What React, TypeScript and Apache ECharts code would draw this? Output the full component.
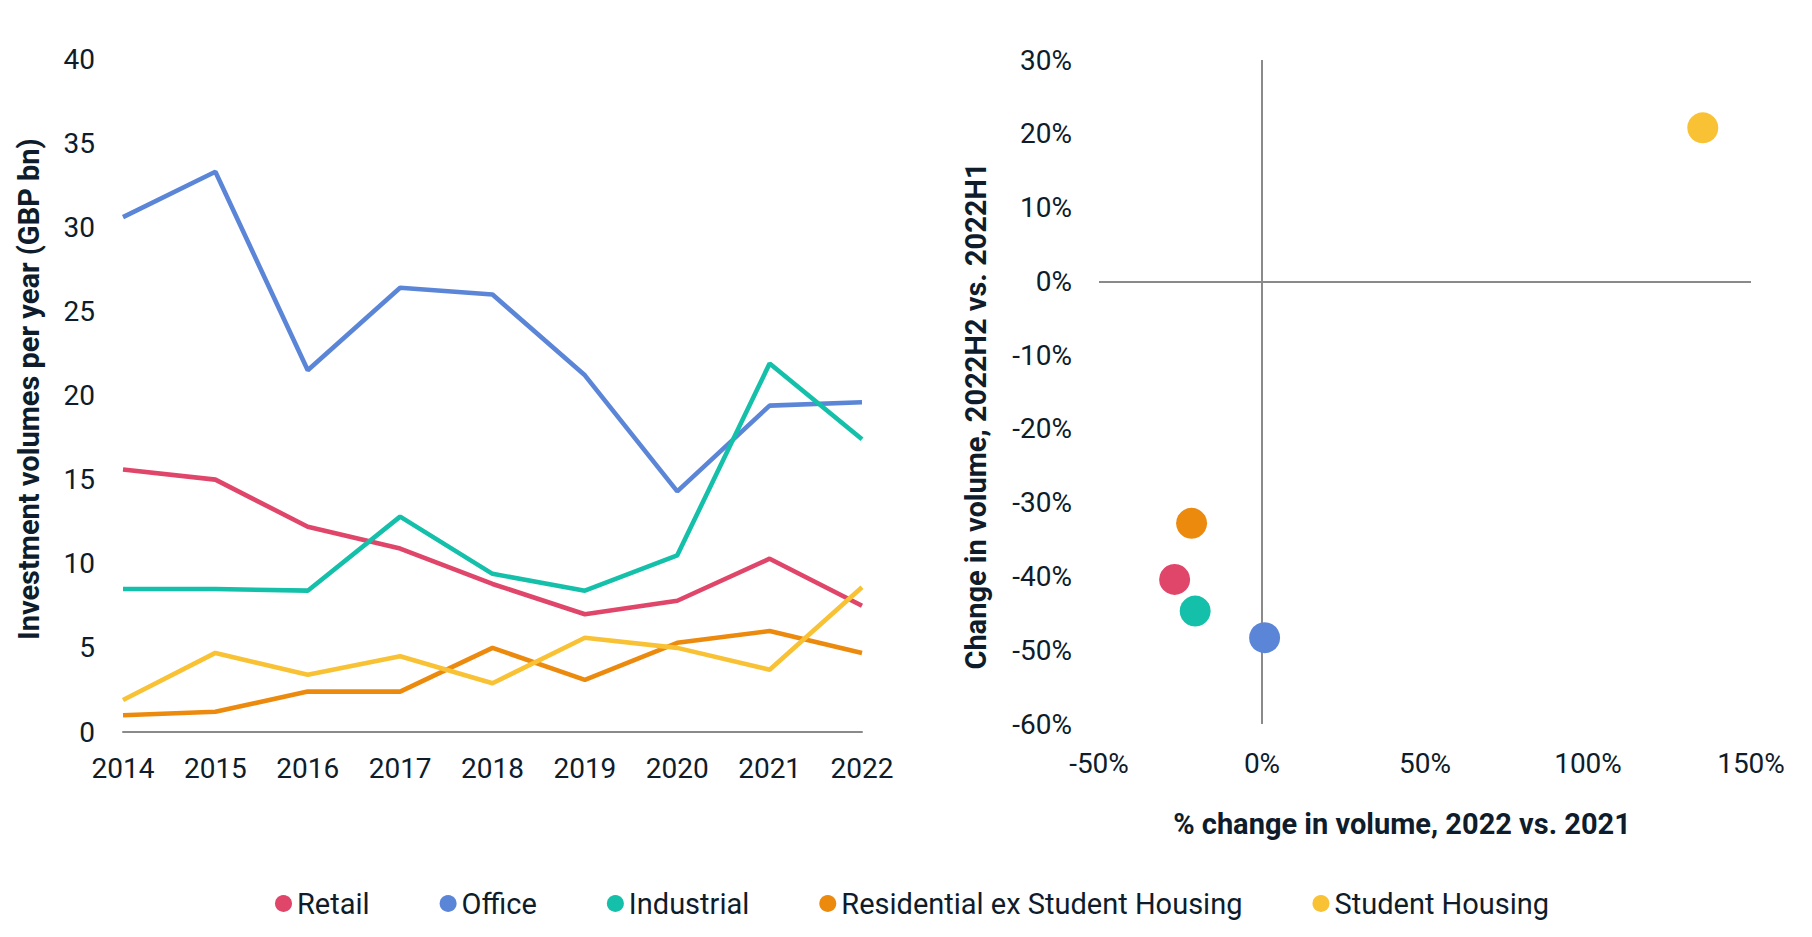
import React, { useEffect, useRef } from "react";
import * as echarts from "echarts";

const years = ["2014", "2015", "2016", "2017", "2018", "2019", "2020", "2021", "2022"];
const seriesNames = ["Retail", "Office", "Industrial", "Residential ex Student Housing", "Student Housing"];
const colors = ["#DF466A", "#5B86D7", "#14C0AA", "#EC8A0E", "#F8C234"];

const retail = [15.6, 15.0, 12.2, 10.9, 8.8, 7.0, 7.8, 10.3, 7.5];
const office = [30.6, 33.3, 21.5, 26.4, 26.0, 21.2, 14.3, 19.4, 19.6];
const industrial = [8.5, 8.5, 8.4, 12.8, 9.4, 8.4, 10.5, 21.9, 17.4];
const residential = [1.0, 1.2, 2.4, 2.4, 5.0, 3.1, 5.3, 6.0, 4.7];
const studentHousing = [1.9, 4.7, 3.4, 4.5, 2.9, 5.6, 5.0, 3.7, 8.6];

// scatter: [% change 2022 vs 2021, change 2022H2 vs 2022H1]
const scatterRetail = [-26.8, -40.4];
const scatterOffice = [0.8, -48.3];
const scatterIndustrial = [-20.5, -44.7];
const scatterResidential = [-21.6, -32.8];
const scatterStudent = [135.2, 20.8];

const leftYTicks = { min: 0, max: 40, interval: 5 };
const rightXTicks = { min: -50, max: 150, interval: 50 };
const rightYTicks = { min: -60, max: 30, interval: 10 };

const TEXT = "#0E1C2B";
const AXIS = "#8A8A8A";
const FONT = "Roboto";

export default function App() {
  const ref = useRef<HTMLDivElement>(null);
  useEffect(() => {
    document.body.style.margin = "0";
    const chart = echarts.init(ref.current!, null, { renderer: "svg" });
    const lineData = [retail, office, industrial, residential, studentHousing];
    const scatterData = [scatterRetail, scatterOffice, scatterIndustrial, scatterResidential, scatterStudent];
    const lineSeries = seriesNames.map((n, i) => ({
      name: n,
      type: "line",
      xAxisIndex: 0,
      yAxisIndex: 0,
      data: lineData[i],
      symbol: "none",
      lineStyle: { width: 4.6, color: colors[i] },
      itemStyle: { color: colors[i] },
    }));
    const scatterSeries = seriesNames.map((n, i) => ({
      name: n,
      type: "scatter",
      xAxisIndex: 1,
      yAxisIndex: 1,
      data: [scatterData[i]],
      symbolSize: 31,
      itemStyle: { color: colors[i], opacity: 1 },
      z: 5,
    }));
    const refLines = {
      type: "scatter",
      xAxisIndex: 1,
      yAxisIndex: 1,
      data: [],
      silent: true,
      z: 1,
      markLine: {
        silent: true,
        symbol: "none",
        label: { show: false },
        lineStyle: { color: AXIS, width: 2, type: "solid" },
        data: [{ xAxis: 0 }, { yAxis: 0 }],
      },
    };
    chart.setOption({
      animation: false,
      textStyle: { fontFamily: FONT, color: TEXT },
      legend: {
        data: seriesNames,
        icon: "circle",
        itemWidth: 17,
        itemHeight: 17,
        itemGap: 70,
        left: 270,
        top: 884,
        textStyle: { fontFamily: FONT, fontSize: 29, color: TEXT, padding: [0, 0, 0, 0] },
      },
      grid: [
        { left: 123, top: 59, width: 739, height: 673 },
        { left: 1099, top: 60, width: 652, height: 664 },
      ],
      xAxis: [
        {
          type: "category",
          gridIndex: 0,
          data: years,
          boundaryGap: false,
          axisLine: { lineStyle: { color: AXIS, width: 2 } },
          axisTick: { show: false },
          axisLabel: { fontSize: 28, color: TEXT, margin: 22, fontFamily: FONT },
        },
        {
          type: "value",
          gridIndex: 1,
          min: rightXTicks.min,
          max: rightXTicks.max,
          interval: rightXTicks.interval,
          axisLine: { show: false },
          axisTick: { show: false },
          splitLine: { show: false },
          axisLabel: { fontSize: 28, color: TEXT, margin: 25, fontFamily: FONT, formatter: "{value}%" },
        },
      ],
      yAxis: [
        {
          type: "value",
          gridIndex: 0,
          min: leftYTicks.min,
          max: leftYTicks.max,
          interval: leftYTicks.interval,
          axisLine: { show: false },
          axisTick: { show: false },
          splitLine: { show: false },
          axisLabel: { fontSize: 28, color: TEXT, margin: 28, fontFamily: FONT },
        },
        {
          type: "value",
          gridIndex: 1,
          min: rightYTicks.min,
          max: rightYTicks.max,
          interval: rightYTicks.interval,
          axisLine: { show: false },
          axisTick: { show: false },
          splitLine: { show: false },
          axisLabel: { fontSize: 28, color: TEXT, margin: 27, fontFamily: FONT, formatter: "{value}%" },
        },
      ],
      graphic: [
        {
          type: "text",
          x: 29,
          y: 389,
          rotation: Math.PI / 2,
          style: {
            text: "Investment volumes per year (GBP bn)",
            fontFamily: FONT,
            fontWeight: "bold",
            fontSize: 29,
            fill: TEXT,
            align: "center",
            verticalAlign: "middle",
          },
        },
        {
          type: "text",
          x: 976,
          y: 416,
          rotation: Math.PI / 2,
          style: {
            text: "Change in volume, 2022H2 vs. 2022H1",
            fontFamily: FONT,
            fontWeight: "bold",
            fontSize: 29,
            fill: TEXT,
            align: "center",
            verticalAlign: "middle",
          },
        },
        {
          type: "text",
          x: 1402,
          y: 824,
          style: {
            text: "% change in volume, 2022 vs. 2021",
            fontFamily: FONT,
            fontWeight: "bold",
            fontSize: 29,
            fill: TEXT,
            align: "center",
            verticalAlign: "middle",
          },
        },
      ],
      series: [...lineSeries, refLines, ...scatterSeries],
    });
    return () => chart.dispose();
  }, []);
  return <div ref={ref} style={{ width: 1812, height: 937 }} />;
}
